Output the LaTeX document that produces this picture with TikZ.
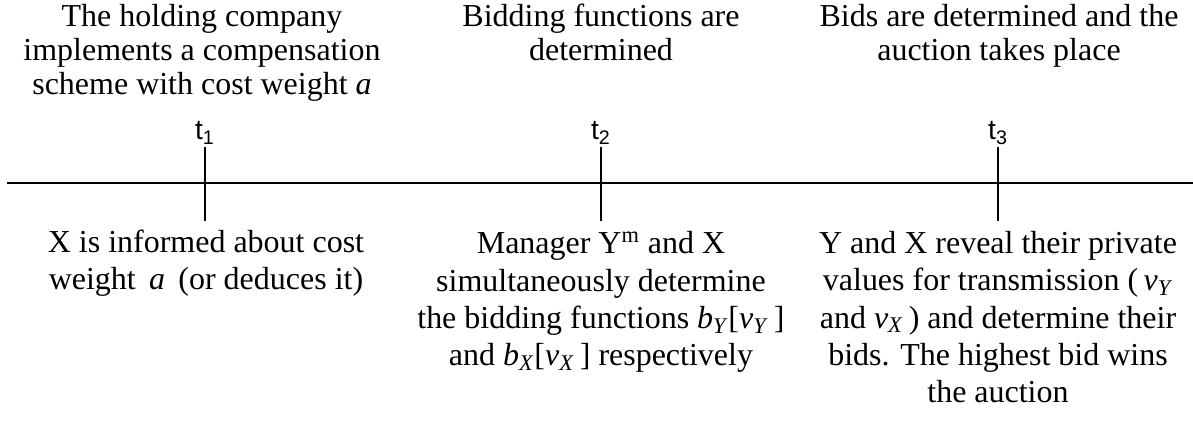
\documentclass[tikz,border=0pt]{standalone}
\usepackage{fontspec}
\setmainfont{Liberation Serif}
\newfontfamily\tlabelfont{Liberation Sans}
\usepackage{tikz}
\usetikzlibrary{positioning}

\begin{document}
\begin{tikzpicture}[
  eventtop/.style={
    align=center,
    anchor=base,
    inner sep=0pt,
    font=\fontsize{18.2}{19.6}\selectfont
  },
  eventbot/.style={
    align=center,
    anchor=base,
    inner sep=0pt,
    font=\fontsize{18.2}{21.3}\selectfont
  },
  tlabel/.style={
    anchor=base,
    inner sep=0pt,
    font=\fontsize{16}{18}\tlabelfont
  },
  axis/.style={
    line width=1.1pt
  }
]
\useasboundingbox (0,0) rectangle (23.86,8.58);

% Time axis (y = 4.92)
\coordinate (axstart) at (0.14, 4.92);
\coordinate (axend) at (23.86, 4.92);
\draw[axis] (axstart) -- (axend);

% Ticks
\coordinate (t1up) at (4.10, 5.64);
\coordinate (t1down) at (4.10, 4.16);
\coordinate (t2up) at (12.02, 5.64);
\coordinate (t2down) at (12.02, 4.16);
\coordinate (t3up) at (19.96, 5.64);
\coordinate (t3down) at (19.96, 4.16);
\draw[axis] (t1up) -- (t1down);
\draw[axis] (t2up) -- (t2down);
\draw[axis] (t3up) -- (t3down);

\node[tlabel] (t1) at (4.10, 5.78) {t\textsubscript{1}};
\node[tlabel] (t2) at (12.02, 5.78) {t\textsubscript{2}};
\node[tlabel] (t3) at (19.96, 5.78) {t\textsubscript{3}};

% Above the axis (anchored at the last line)
\node[eventtop] (hold) at (4.04, 6.68) {
  The holding company\\
  implements a compensation\\
  scheme with cost weight \textit{a}
};
\node[eventtop] (bidfn) at (12.02, 7.36) {
  Bidding functions are\\
  determined
};
\node[eventtop] (auct) at (19.98, 7.36) {
  Bids are determined and the\\
  auction takes place
};

% Below the axis (anchored at the last line)
\node[eventbot] (inform) at (4.12, 2.78) {
  X is informed about cost\\
  weight \,\textit{a}\, (or deduces it)
};
\node[eventbot] (manager) at (12.02, 1.26) {
  Manager Y\textsuperscript{m} and X\\
  simultaneously determine\\
  the bidding functions \textit{b}\textsubscript{\textit{Y}}[\textit{v}\textsubscript{\textit{Y}}\,]\\
  and \textit{b}\textsubscript{\textit{X}}[\textit{v}\textsubscript{\textit{X}}\,] respectively
};
\node[eventbot] (reveal) at (19.96, 0.52) {
  Y and X reveal their private\\
  values for transmission (\,\textit{v}\textsubscript{\textit{Y}}\\
  and \textit{v}\textsubscript{\textit{X}}\,) and determine their\\
  bids. The highest bid wins\\
  the auction
};

\end{tikzpicture}
\end{document}
